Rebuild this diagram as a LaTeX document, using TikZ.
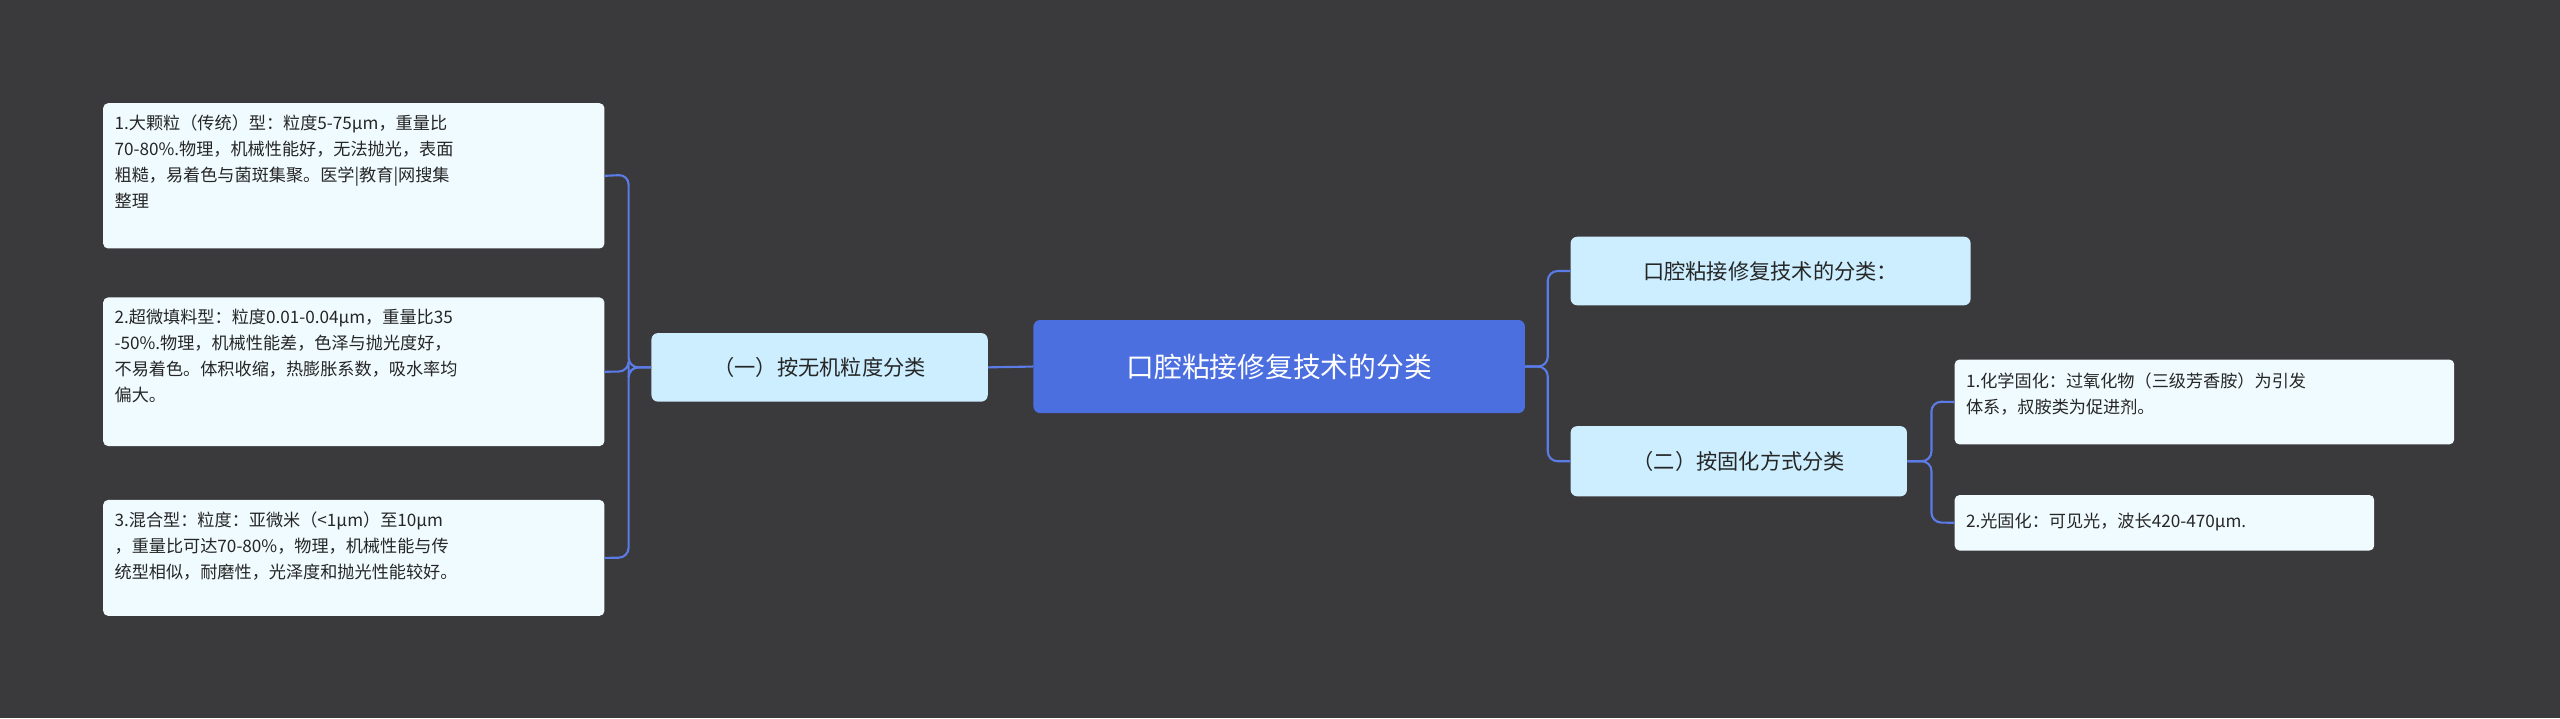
\documentclass[tikz,border=0pt]{standalone}
\usepackage{fontspec}
\setmainfont{Noto Sans CJK SC}
\begin{document}
\begin{tikzpicture}[x=1pt,y=-1pt,
 leaf/.style={draw=none,fill=leafc,rounded corners=3pt,align=left,anchor=north west,font=\fontsize{10.5}{16}\selectfont,inner sep=0pt,text=black!85},
 mid/.style={fill=midc,rounded corners=4pt,font=\fontsize{13}{16}\selectfont,text=black!85,inner sep=0pt},
 link/.style={draw=linkc,line width=1.3pt,rounded corners=6pt}]
\definecolor{bg}{HTML}{3A393B}
\definecolor{leafc}{HTML}{F0FBFF}
\definecolor{midc}{HTML}{CCEEFF}
\definecolor{linkc}{HTML}{5B7BE6}
\definecolor{cen}{HTML}{4C6FE0}
\fill[bg] (0,0) rectangle (1568,440);
\useasboundingbox (0,0) rectangle (1568,440);
% center
\node[fill=cen,rounded corners=4pt,minimum width=301pt,minimum height=57pt,text=white,font=\fontsize{17}{20}\selectfont] (c) at (783.5,224.5) {口腔粘接修复技术的分类};
\node[mid,minimum width=206pt,minimum height=42pt] (l) at (502,225) {（一）按无机粒度分类};
\node[mid,minimum width=245pt,minimum height=42pt] (r1) at (1084.5,166) {口腔粘接修复技术的分类：};
\node[mid,minimum width=206pt,minimum height=43pt] (r2) at (1065,282.5) {（二）按固化方式分类};
% left leaves
\node[leaf,minimum width=307pt,minimum height=89pt] (a1) at (63,63) {};
\node[anchor=north west,align=left,font=\fontsize{10.5}{16}\selectfont,text=black!85,inner sep=0pt] at (70,70) {1.大颗粒（传统）型：粒度5-75μm，重量比\\70-80\%.物理，机械性能好，无法抛光，表面\\粗糙，易着色与菌斑集聚。医学|教育|网搜集\\整理};
\node[leaf,minimum width=307pt,minimum height=91pt] (a2) at (63,182) {};
\node[anchor=north west,align=left,font=\fontsize{10.5}{16}\selectfont,text=black!85,inner sep=0pt] at (70,189) {2.超微填料型：粒度0.01-0.04μm，重量比35\\-50\%.物理，机械性能差，色泽与抛光度好，\\不易着色。体积收缩，热膨胀系数，吸水率均\\偏大。};
\node[leaf,minimum width=307pt,minimum height=71pt] (a3) at (63,306) {};
\node[anchor=north west,align=left,font=\fontsize{10.5}{16}\selectfont,text=black!85,inner sep=0pt] at (70,313) {3.混合型：粒度：亚微米（<1μm）至10μm\\，重量比可达70-80\%，物理，机械性能与传\\统型相似，耐磨性，光泽度和抛光性能较好。};
% right leaves
\node[leaf,minimum width=306pt,minimum height=52pt] (b1) at (1197,220) {};
\node[anchor=north west,align=left,font=\fontsize{10.5}{16}\selectfont,text=black!85,inner sep=0pt] at (1204,228) {1.化学固化：过氧化物（三级芳香胺）为引发\\体系，叔胺类为促进剂。};
\node[leaf,minimum width=257pt,minimum height=34pt] (b2) at (1197,303) {};
\node[anchor=west,font=\fontsize{10.5}{16}\selectfont,text=black!85,inner sep=0pt] at (1204,320) {2.光固化：可见光，波长420-470μm.};
% links
\draw[link] (c.west) -- (l.east);
\draw[link] (l.west) -- (385,225) -- (385,107) -- (a1.east);
\draw[link] (l.west) -- (385,225) -- (385,227.5) -- (a2.east);
\draw[link] (l.west) -- (385,225) -- (385,341.5) -- (a3.east);
\draw[link] (c.east) -- (948,224.5) -- (948,166) -- (r1.west);
\draw[link] (c.east) -- (948,224.5) -- (948,282.5) -- (r2.west);
\draw[link] (r2.east) -- (1183,282.5) -- (1183,246) -- (b1.west);
\draw[link] (r2.east) -- (1183,282.5) -- (1183,320) -- (b2.west);
\end{tikzpicture}
\end{document}
